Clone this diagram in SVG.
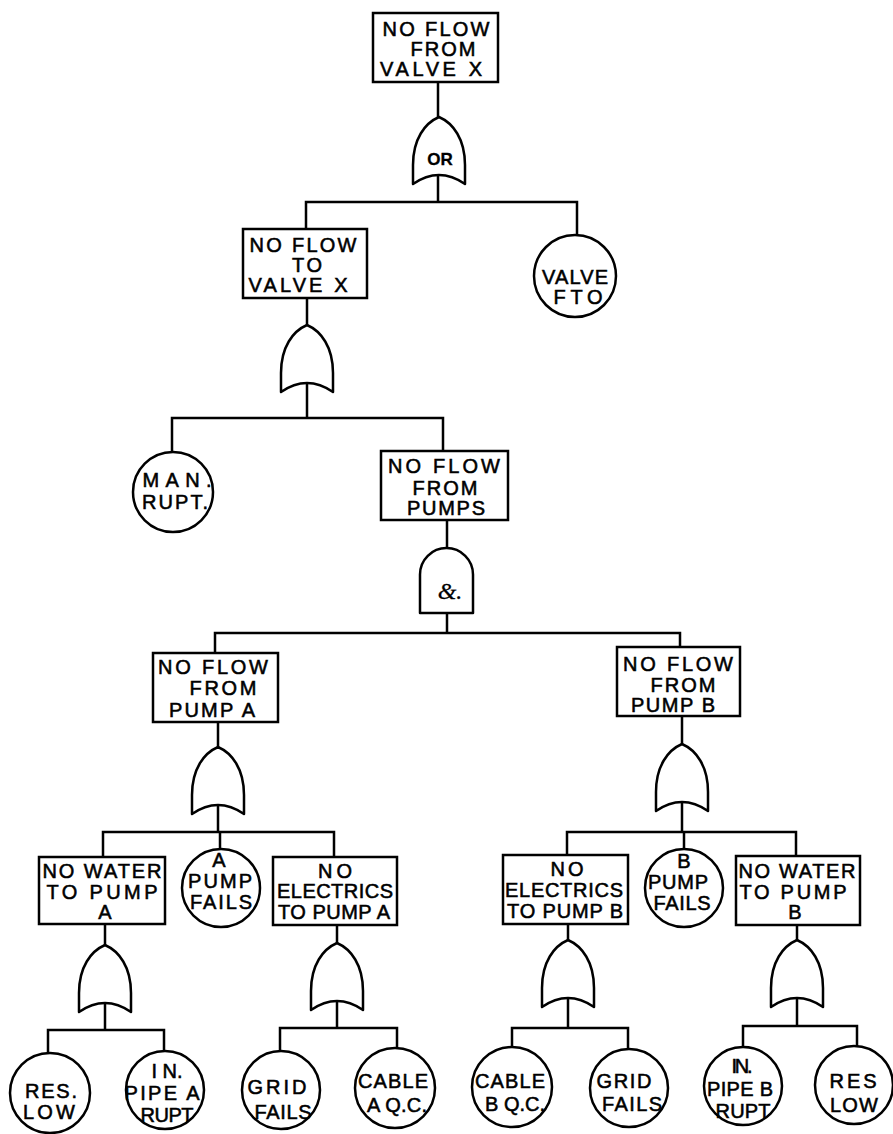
<svg xmlns="http://www.w3.org/2000/svg" xmlns:xlink="http://www.w3.org/1999/xlink" width="893" height="1134" viewBox="0 0 893 1134">
<style>
  .bx { fill: #fff; stroke: #000; stroke-width: 2.5; }
  .ci { fill: #fff; stroke: #000; stroke-width: 2.5; }
  .gt { fill: #fff; stroke: #000; stroke-width: 2.5; stroke-linejoin: round; }
  .ln { fill: none; stroke: #000; stroke-width: 2.5; stroke-linecap: square; }
  text { font-family: "Liberation Sans", Arial, sans-serif; font-size: 20px; fill: #000; stroke: #000; stroke-width: 0.55; text-anchor: middle; }
  .or { font-weight: bold; font-size: 17px; stroke-width: 0.3; }
  .amp { font-family: "Liberation Serif", serif; font-style: italic; font-size: 24px; stroke-width: 0.3; }
</style>
<defs>
  <path id="orgate" d="M 0,0 C 14,6 26,22 26,48 L 26,67 Q 0,49 -26,67 L -26,48 C -26,22 -14,6 0,0 Z"/>
</defs>
<rect width="893" height="1134" fill="#fff"/>

<g id="connectors" class="ln">
  <path d="M438,82 V117 M438,176 V202 M306,202 H577 M306,202 V229 M577,202 V235"/>
  <path d="M307,298 V325 M307,383 V418 M172,418 H443 M172,418 V452 M443,418 V451"/>
  <path d="M447,520 V548 M447,613 V633 M215,633 H680 M215,633 V653 M680,633 V647"/>
  <path d="M218,722 V747 M218,805 V832 M103,832 H334 M103,832 V857 M220,832 V849 M334,832 V857"/>
  <path d="M682,716 V744 M682,802 V832 M567,832 H796 M567,832 V855 M684,832 V849 M796,832 V856"/>
  <path d="M105,924 V945 M105,1003 V1030 M48,1030 H164 M48,1030 V1053 M164,1030 V1051"/>
  <path d="M337,925 V943 M337,1001 V1028 M280,1028 H397 M280,1028 V1051 M397,1028 V1048"/>
  <path d="M568,924 V940 M568,998 V1028 M512,1028 H628 M512,1028 V1047 M628,1028 V1049"/>
  <path d="M797,925 V940 M797,998 V1026 M743,1026 H857 M743,1026 V1047 M857,1026 V1046"/>
</g>

<g id="top_event">
  <rect class="bx" x="373" y="13" width="125" height="69"/>
  <text x="436" y="36" textLength="107">NO FLOW</text>
  <text x="443" y="56" textLength="65">FROM</text>
  <text x="431" y="76" textLength="102">VALVE  X</text>
</g>
<g id="gate_or_top">
  <use href="#orgate" xlink:href="#orgate" class="gt" transform="translate(439,117)"/>
  <text class="or" x="440" y="165">OR</text>
</g>

<g id="no_flow_to_valve_x">
  <rect class="bx" x="243" y="229" width="124" height="69"/>
  <text x="303" y="252" textLength="107">NO FLOW</text>
  <text x="307" y="272" textLength="30">TO</text>
  <text x="298" y="292" textLength="99">VALVE  X</text>
</g>
<g id="valve_fto">
  <circle class="ci" cx="575" cy="276" r="41"/>
  <text x="575" y="284" textLength="66">VALVE</text>
  <text x="578" y="304" textLength="49">FTO</text>
</g>
<g id="gate_or_valve">
  <use href="#orgate" xlink:href="#orgate" class="gt" transform="translate(307,325)"/>
</g>

<g id="man_rupt">
  <circle class="ci" cx="173" cy="492" r="40"/>
  <text x="177" y="487" textLength="69">MAN.</text>
  <text x="175" y="509" textLength="66">RUPT.</text>
</g>
<g id="no_flow_from_pumps">
  <rect class="bx" x="381" y="451" width="127" height="69"/>
  <text x="444" y="473" textLength="112">NO FLOW</text>
  <text x="445" y="495" textLength="65">FROM</text>
  <text x="446" y="515" textLength="78">PUMPS</text>
</g>
<g id="gate_and_pumps">
  <path class="gt" d="M420,613 V574.5 A26.5,26.5 0 0 1 473,574.5 V613 Z"/>
  <text class="amp" x="450" y="599">&amp;.</text>
</g>

<g id="no_flow_from_pump_a">
  <rect class="bx" x="153" y="653" width="125" height="69"/>
  <text x="213" y="674" textLength="110">NO FLOW</text>
  <text x="223" y="695" textLength="67">FROM</text>
  <text x="212" y="717" textLength="86">PUMP A</text>
</g>
<g id="gate_or_pump_a">
  <use href="#orgate" xlink:href="#orgate" class="gt" transform="translate(218,747)"/>
</g>

<g id="no_flow_from_pump_b">
  <rect class="bx" x="617" y="647" width="123" height="69"/>
  <text x="678" y="671" textLength="110">NO FLOW</text>
  <text x="683" y="692" textLength="65">FROM</text>
  <text x="673" y="712" textLength="84">PUMP B</text>
</g>
<g id="gate_or_pump_b">
  <use href="#orgate" xlink:href="#orgate" class="gt" transform="translate(682,744)"/>
</g>

<g id="no_water_to_pump_a">
  <rect class="bx" x="39" y="857" width="126" height="67"/>
  <text x="102" y="878" textLength="119">NO WATER</text>
  <text x="102" y="899" textLength="111">TO  PUMP</text>
  <text x="105" y="919">A</text>
</g>
<g id="pump_a_fails">
  <circle class="ci" cx="221" cy="888" r="39"/>
  <text x="219" y="867">A</text>
  <text x="220" y="888" textLength="64">PUMP</text>
  <text x="221" y="909" textLength="62">FAILS</text>
</g>
<g id="no_electrics_to_pump_a">
  <rect class="bx" x="273" y="857" width="124" height="68"/>
  <text x="335" y="878" textLength="34">NO</text>
  <text x="335" y="898" textLength="116">ELECTRICS</text>
  <text x="334" y="919" textLength="112">TO PUMP A</text>
</g>
<g id="gate_or_water_a">
  <use href="#orgate" xlink:href="#orgate" class="gt" transform="translate(105,945)"/>
</g>
<g id="gate_or_elec_a">
  <use href="#orgate" xlink:href="#orgate" class="gt" transform="translate(337,943)"/>
</g>

<g id="no_electrics_to_pump_b">
  <rect class="bx" x="503" y="855" width="125" height="69"/>
  <text x="567" y="876" textLength="33">NO</text>
  <text x="564" y="897" textLength="118">ELECTRICS</text>
  <text x="565" y="918" textLength="116">TO PUMP B</text>
</g>
<g id="pump_b_fails">
  <circle class="ci" cx="684" cy="888" r="39"/>
  <text x="684" y="868">B</text>
  <text x="678" y="889" textLength="60">PUMP</text>
  <text x="682" y="910" textLength="57">FAILS</text>
</g>
<g id="no_water_to_pump_b">
  <rect class="bx" x="736" y="856" width="124" height="69"/>
  <text x="797" y="878" textLength="117">NO WATER</text>
  <text x="793" y="899" textLength="107">TO  PUMP</text>
  <text x="795" y="919">B</text>
</g>
<g id="gate_or_elec_b">
  <use href="#orgate" xlink:href="#orgate" class="gt" transform="translate(568,940)"/>
</g>
<g id="gate_or_water_b">
  <use href="#orgate" xlink:href="#orgate" class="gt" transform="translate(797,940)"/>
</g>

<g id="res_low_a">
  <circle class="ci" cx="50" cy="1093" r="40"/>
  <text x="51" y="1098" textLength="52">RES.</text>
  <text x="49" y="1119" textLength="52">LOW</text>
</g>
<g id="in_pipe_a_rupt">
  <circle class="ci" cx="165" cy="1090" r="39"/>
  <text x="167" y="1078" textLength="31">I N.</text>
  <text x="162" y="1100" textLength="75">PIPE A</text>
  <text x="167" y="1122" textLength="53">RUPT</text>
</g>
<g id="grid_fails_a">
  <circle class="ci" cx="281" cy="1090" r="39"/>
  <text x="277" y="1094" textLength="59">GRID</text>
  <text x="283" y="1119" textLength="57">FAILS</text>
</g>
<g id="cable_a_qc">
  <circle class="ci" cx="395" cy="1088" r="40"/>
  <text x="393" y="1088" textLength="70">CABLE</text>
  <text x="397" y="1112" textLength="60">A Q.C.</text>
</g>
<g id="cable_b_qc">
  <circle class="ci" cx="512" cy="1087" r="40"/>
  <text x="510" y="1088" textLength="70">CABLE</text>
  <text x="515" y="1111" textLength="60">B Q.C.</text>
</g>
<g id="grid_fails_b">
  <circle class="ci" cx="629" cy="1088" r="39"/>
  <text x="624" y="1088" textLength="55">GRID</text>
  <text x="632" y="1111" textLength="60">FAILS</text>
</g>
<g id="in_pipe_b_rupt">
  <circle class="ci" cx="743" cy="1086" r="39"/>
  <text x="742" y="1073" textLength="21">IN.</text>
  <text x="740" y="1096" textLength="66">PIPE B</text>
  <text x="743" y="1118" textLength="55">RUPT</text>
</g>
<g id="res_low_b">
  <circle class="ci" cx="854" cy="1085" r="39"/>
  <text x="853" y="1088" textLength="47">RES</text>
  <text x="854" y="1112" textLength="48">LOW</text>
</g>
</svg>
